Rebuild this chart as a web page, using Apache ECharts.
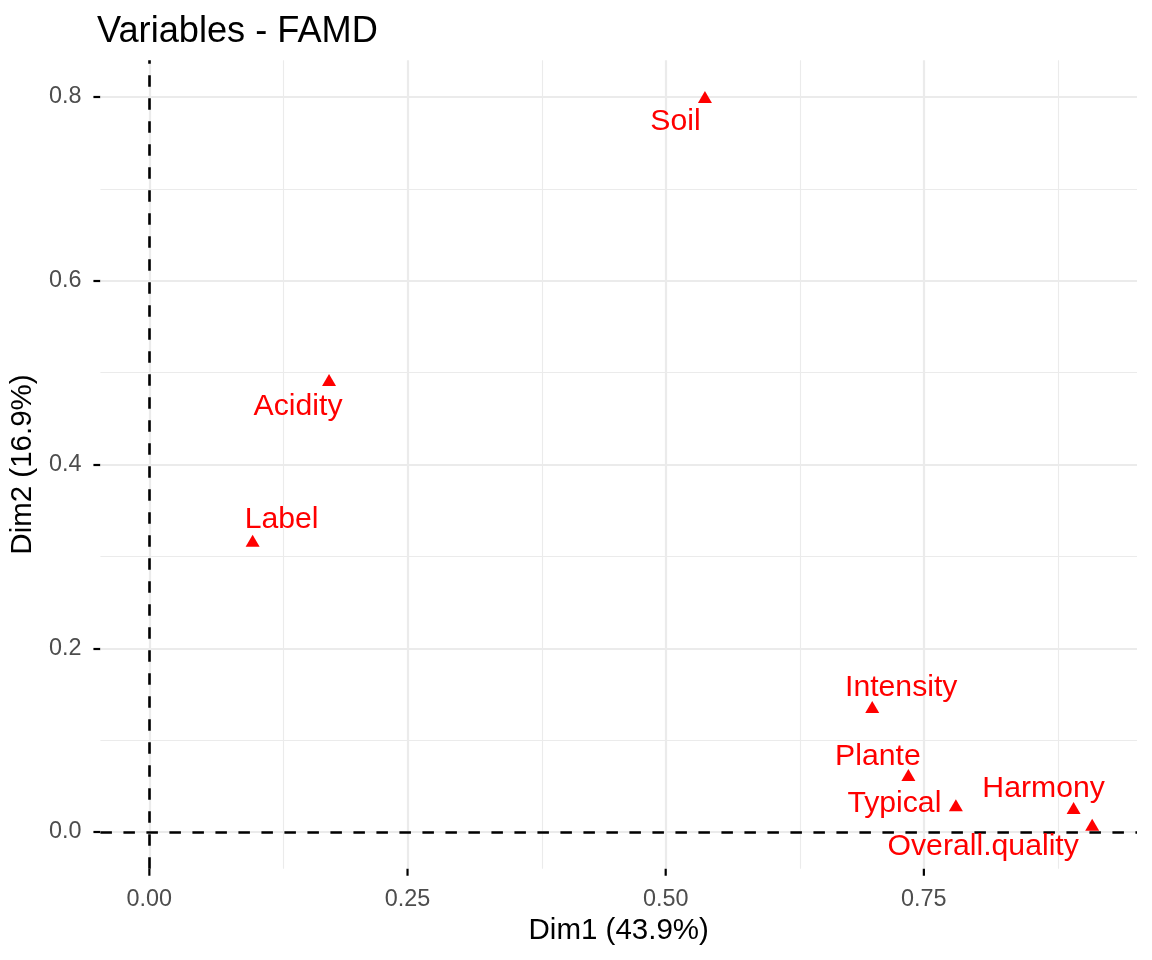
<!DOCTYPE html>
<html>
<head>
<meta charset="utf-8">
<title>Variables - FAMD</title>
<script src="https://cdn.jsdelivr.net/npm/echarts@6/dist/echarts.min.js"></script>
<style>
  html, body { margin: 0; padding: 0; background: #fff; }
  #chart { width: 1152px; height: 960px; }
</style>
</head>
<body>
<div id="chart"></div>
<script>
// variables and their coordinates on the first two dimensions
const names = ['Soil', 'Acidity', 'Label', 'Intensity', 'Plante', 'Typical', 'Harmony', 'Overall.quality'];
const dim1 = [0.538, 0.174, 0.100, 0.700, 0.735, 0.781, 0.895, 0.913];
const dim2 = [0.800, 0.492, 0.317, 0.136, 0.062, 0.029, 0.026, 0.008];

// axis ranges and tick / grid values
const xRange = [-0.0474, 0.9564];
const yRange = [-0.04, 0.84];
const xMajor = [0, 0.25, 0.5, 0.75];
const xMinor = [0.125, 0.375, 0.625, 0.875];
const yMajor = [0, 0.2, 0.4, 0.6, 0.8];
const yMinor = [0.1, 0.3, 0.5, 0.7];

// where each label sits relative to its point (repel-like placement)
const labelOffsets = [[-29.5, 24.5], [-31, 27], [29, -21], [29, -19], [-30.5, -18], [-61.5, -1.5], [-30, -19], [-109, 22.5]];

const font = "'Liberation Sans', Arial, Helvetica, sans-serif";
const symSize = [14, 12];
const tickLen = 7;
const chart = echarts.init(document.getElementById('chart'), null, { renderer: 'canvas' });

const gridLines = [];
xMajor.forEach(v => gridLines.push({ xAxis: v, lineStyle: { color: '#ebebeb', width: 2.2, type: 'solid' } }));
xMinor.forEach(v => gridLines.push({ xAxis: v, lineStyle: { color: '#ebebeb', width: 1.1, type: 'solid' } }));
yMajor.forEach(v => gridLines.push({ yAxis: v, lineStyle: { color: '#ebebeb', width: 2.2, type: 'solid' } }));
yMinor.forEach(v => gridLines.push({ yAxis: v, lineStyle: { color: '#ebebeb', width: 1.1, type: 'solid' } }));

// label position is relative to the symbol's box, so shift by half the symbol size
const points = names.map((n, i) => ({
    name: n,
    value: [dim1[i], dim2[i]],
    label: { position: [symSize[0] / 2 + labelOffsets[i][0], symSize[1] / 2 + labelOffsets[i][1]] }
}));

const axisCommon = {
    type: 'value',
    splitLine: { show: false },
    axisLine: { show: false, onZero: false },
    nameLocation: 'middle',
    nameTextStyle: { color: '#000', fontSize: 29.5, fontFamily: font }
};

const option = {
    animation: false,
    backgroundColor: '#fff',
    title: {
        text: 'Variables - FAMD',
        left: 92,
        top: 9,
        textStyle: { color: '#000', fontSize: 36.2, fontWeight: 'normal', fontFamily: font }
    },
    grid: { left: 100, right: 15, top: 60.25, bottom: 91.25, containLabel: false },
    xAxis: Object.assign({}, axisCommon, {
        min: xRange[0],
        max: xRange[1],
        name: 'Dim1 (43.9%)',
        nameGap: 47,
        axisTick: { show: false },
        axisLabel: {
            customValues: xMajor,
            formatter: v => v.toFixed(2),
            color: '#4d4d4d', fontSize: 23.4, fontFamily: font, margin: 19
        }
    }),
    yAxis: Object.assign({}, axisCommon, {
        min: yRange[0],
        max: yRange[1],
        name: 'Dim2 (16.9%)',
        nameGap: 60,
        axisTick: { show: true, customValues: yMajor, length: tickLen, lineStyle: { color: '#000', width: 2.2 } },
        axisLabel: {
            customValues: yMajor,
            formatter: v => v.toFixed(1),
            color: '#4d4d4d', fontSize: 23.4, fontFamily: font, margin: 19
        }
    }),
    series: [
        {
            name: 'grid',
            type: 'scatter',
            data: [],
            z: 1,
            silent: true,
            markLine: {
                z: 1,
                silent: true,
                symbol: 'none',
                label: { show: false },
                emphasis: { disabled: true },
                data: gridLines
            }
        },
        {
            name: 'origin',
            type: 'scatter',
            data: [],
            z: 2,
            silent: true,
            markLine: {
                z: 2,
                silent: true,
                symbol: 'none',
                label: { show: false },
                emphasis: { disabled: true },
                lineStyle: { color: '#000', width: 2.6, type: [11.5, 11.5] },
                data: [{ xAxis: 0 }, { yAxis: 0 }]
            }
        },
        {
            // x-axis tick marks hanging below the panel
            name: 'xticks',
            type: 'scatter',
            silent: true,
            clip: false,
            z: 3,
            symbol: 'rect',
            symbolSize: [2.2, tickLen],
            symbolOffset: [0, tickLen / 2],
            itemStyle: { color: '#000', opacity: 1 },
            emphasis: { disabled: true },
            data: xMajor.map(v => [v, yRange[0]])
        },
        {
            name: 'variables',
            type: 'scatter',
            z: 10,
            symbol: 'triangle',
            symbolSize: symSize,
            itemStyle: { color: '#ff0000', opacity: 1 },
            label: {
                show: true,
                align: 'center',
                verticalAlign: 'middle',
                formatter: p => p.name,
                color: '#ff0000',
                textBorderWidth: 0,
                fontSize: 30.2,
                fontFamily: font
            },
            labelLayout: { hideOverlap: false },
            emphasis: { disabled: true },
            data: points
        }
    ]
};

chart.setOption(option);
</script>
</body>
</html>
